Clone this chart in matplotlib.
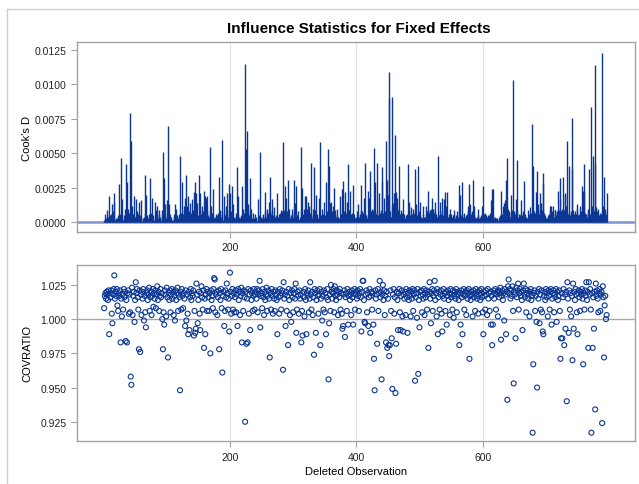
import numpy as np
import matplotlib
matplotlib.use("Agg")
import matplotlib.pyplot as plt
from matplotlib.lines import Line2D

plt.rcParams['font.family'] = ['Liberation Sans', 'DejaVu Sans']

# Cook's D per deleted observation, in units of 1e-4
cooks_d = [
    2, 6, 1, 3, 2, 9, 4, 5, 19, 5, 4, 6, 3, 13, 8, 21, 15, 2, 1, 3,
    1, 3, 5, 4, 28, 6, 2, 47, 17, 1, 2, 3, 5, 10, 7, 42, 29, 6, 10, 5,
    7, 79, 3, 59, 12, 6, 3, 19, 4, 2, 5, 17, 8, 4, 6, 15, 3, 5, 16, 4,
    1, 2, 3, 4, 7, 34, 20, 5, 4, 2, 3, 6, 4, 32, 7, 3, 18, 5, 1, 2,
    4, 15, 9, 5, 12, 3, 6, 9, 4, 1, 2, 5, 9, 51, 8, 32, 13, 4, 3, 6,
    16, 70, 5, 13, 6, 4, 3, 2, 1, 2, 4, 6, 13, 5, 10, 3, 5, 3, 4, 6,
    48, 5, 7, 29, 4, 6, 12, 8, 18, 9, 34, 12, 6, 19, 8, 5, 14, 7, 4, 17,
    6, 9, 22, 12, 29, 21, 8, 14, 5, 3, 34, 9, 21, 6, 4, 12, 5, 8, 23, 11,
    19, 18, 9, 19, 5, 2, 4, 8, 55, 12, 6, 7, 24, 5, 3, 4, 3, 6, 2, 5,
    7, 6, 33, 5, 9, 4, 8, 60, 2, 6, 19, 5, 7, 12, 9, 21, 4, 6, 28, 21,
    6, 8, 5, 26, 13, 4, 2, 3, 5, 7, 40, 6, 19, 4, 2, 3, 5, 4, 26, 6,
    10, 4, 7, 115, 8, 53, 66, 9, 13, 5, 6, 32, 4, 10, 3, 2, 7, 3, 1, 6,
    2, 4, 1, 3, 17, 5, 2, 51, 4, 2, 3, 5, 6, 3, 8, 22, 4, 6, 10, 5,
    7, 15, 9, 33, 6, 8, 17, 5, 3, 11, 4, 3, 5, 2, 21, 4, 3, 6, 2, 7,
    9, 5, 8, 58, 6, 9, 26, 7, 18, 4, 8, 31, 6, 10, 3, 5, 3, 6, 10, 4,
    8, 31, 14, 6, 26, 5, 8, 3, 2, 2, 4, 9, 55, 25, 6, 3, 10, 5, 19, 7,
    19, 10, 6, 15, 12, 4, 7, 43, 5, 3, 6, 10, 40, 4, 9, 20, 6, 4, 2, 3,
    18, 6, 58, 5, 4, 10, 3, 6, 15, 5, 3, 29, 8, 6, 53, 12, 41, 7, 14, 15,
    6, 8, 12, 4, 25, 6, 9, 4, 5, 10, 4, 2, 3, 19, 6, 4, 7, 24, 30, 8,
    5, 22, 7, 4, 15, 6, 42, 5, 9, 23, 6, 4, 7, 5, 27, 6, 4, 3, 2, 4,
    8, 5, 13, 4, 3, 6, 9, 27, 8, 5, 7, 18, 6, 43, 5, 4, 3, 6, 23, 18,
    5, 37, 8, 4, 10, 6, 9, 54, 7, 29, 6, 8, 43, 5, 4, 21, 6, 7, 9, 40,
    29, 5, 7, 18, 6, 8, 59, 10, 31, 20, 90, 109, 8, 4, 4, 12, 91, 14, 9, 21,
    8, 63, 22, 12, 18, 9, 7, 41, 6, 9, 5, 4, 7, 17, 6, 4, 3, 2, 5, 6,
    42, 6, 8, 15, 5, 11, 4, 6, 3, 10, 5, 7, 39, 6, 13, 5, 4, 41, 8, 15,
    5, 4, 2, 3, 6, 12, 4, 3, 4, 6, 12, 8, 9, 23, 7, 8, 9, 10, 18, 9,
    10, 10, 7, 8, 15, 6, 4, 2, 5, 48, 5, 8, 15, 6, 4, 18, 5, 9, 17, 12,
    22, 12, 22, 3, 4, 6, 4, 5, 10, 6, 4, 3, 5, 9, 6, 3, 4, 5, 3, 8,
    4, 6, 27, 20, 5, 4, 6, 29, 4, 3, 7, 4, 5, 3, 6, 12, 8, 5, 28, 13,
    4, 6, 8, 31, 5, 6, 12, 4, 2, 3, 4, 5, 10, 3, 2, 4, 3, 5, 12, 4,
    26, 6, 4, 7, 3, 5, 4, 3, 5, 5, 3, 7, 16, 10, 24, 24, 5, 3, 4, 2,
    3, 1, 3, 2, 4, 2, 3, 5, 23, 6, 4, 12, 8, 14, 16, 9, 31, 12, 47, 10,
    8, 5, 4, 7, 20, 6, 9, 103, 8, 5, 6, 8, 17, 9, 45, 4, 3, 6, 5, 7,
    16, 5, 4, 8, 6, 30, 6, 4, 2, 3, 4, 9, 6, 5, 11, 4, 7, 71, 9, 41,
    8, 7, 6, 5, 22, 37, 9, 13, 6, 10, 21, 8, 14, 9, 28, 36, 7, 5, 4, 3,
    2, 3, 5, 4, 6, 12, 9, 12, 5, 8, 12, 6, 4, 9, 9, 5, 7, 8, 23, 6,
    9, 17, 32, 8, 7, 10, 33, 6, 9, 21, 20, 12, 59, 8, 6, 41, 7, 5, 4, 8,
    39, 76, 9, 6, 5, 8, 4, 6, 13, 10, 5, 4, 6, 12, 5, 8, 26, 23, 9, 42,
    23, 7, 5, 6, 4, 8, 10, 39, 6, 5, 3, 84, 12, 48, 9, 8, 42, 114, 7, 11,
    8, 6, 10, 5, 7, 4, 6, 8, 123, 12, 9, 33, 8, 10, 6, 21,
]

# COVRATIO per deleted observation, as (COVRATIO - 1) * 1000
covratio = [
    8, 17, 19, 15, 20, 18, 14, 21, -11, 19, 16, 21, 4, -3, 18, 22, 32, 15, 20, 17,
    22, 10, 6, 19, 17, 21, -17, 15, 2, 18, 7, 22, 16, 20, -16, 14, -17, 19, 21, 4,
    18, 5, -42, -48, 23, 3, 17, 20, -2, 14, 27, 19, 22, 16, 7, -22, 21, -24, 18, 3,
    20, 15, 22, -1, 17, 5, -6, 19, 21, 14, 18, 23, 6, 16, 20, 3, 17, 22, 9, 19,
    15, 21, 8, 18, 24, 14, 20, 6, 17, 22, 16, 19, 0, -22, 5, -4, 21, 18, 2, 23,
    16, -28, 19, 14, 21, 5, 18, 22, 15, 20, 3, 17, -1, 21, 14, 19, 23, 6, 18, 16,
    -52, 20, 7, 22, 17, 8, 19, 15, -5, 21, -1, 18, 4, -11, 20, -8, 16, 22, 14, 19,
    17, 21, -12, 6, -10, -7, 26, 18, -3, 14, 20, 4, -8, 19, 24, 16, 7, 21, -21, 15,
    -11, 18, 22, 6, 20, 16, 6, 19, -25, 21, 14, 17, 8, 22, 30, 29, 5, 18, 20, 3,
    16, 21, -22, 19, 14, 22, 8, -39, 17, 20, -5, 6, 21, 16, 26, 19, 7, 15, -9, 34,
    20, 4, 17, 22, 7, 19, 5, 16, 21, 5, 18, -5, 22, 14, 20, 3, 17, 23, -17, 19,
    6, 21, 16, -75, 20, -18, 15, -17, 22, 4, 18, -8, 21, 14, 19, 6, 17, 22, 7, 18,
    20, 15, 22, 5, 18, 21, 28, -6, 17, 19, 8, 22, 16, 3, 20, 14, 18, 23, 6, 17,
    21, 15, -28, 19, 7, 22, 17, 4, 20, 15, 6, 21, 18, 14, -11, 20, 16, 4, 22, 17,
    7, 19, 21, -37, 27, 15, 18, -5, 20, 6, 17, -19, 22, 14, 3, 19, -2, 21, 16, 5,
    19, 22, 15, 26, -10, 7, 20, 17, 4, 21, 15, 18, -17, 6, -12, 20, 16, 2, 22, 14,
    -11, 19, 17, 21, 5, 15, 27, 18, 7, 20, 3, 16, -26, 22, 19, -10, 14, 21, 17, 4,
    18, 22, -19, 15, 20, -1, 17, 7, 21, 5, 19, -11, 16, 22, 14, -44, -3, 18, 6, 25,
    20, 15, 19, 22, 5, 24, 17, 14, 21, 18, 3, 20, 16, 22, 7, 19, 4, -7, -5, 18,
    21, -13, 16, 19, 6, 22, -4, 17, 20, 14, 18, 3, 21, 16, -4, 19, 22, 7, 18, 20,
    15, 21, 17, 6, 19, 22, 16, -9, 20, 28, 28, 14, -2, -3, 18, 21, 5, 19, -5, 16,
    22, -10, 17, 20, 7, 19, -4, -29, -52, 21, 15, 18, -18, 22, 6, 19, 28, 16, 20, -44,
    18, 25, 14, 21, 3, 17, -17, 20, -21, 15, -19, -27, -19, 21, 6, -14, -51, 18, 22, 4,
    16, -54, -18, 20, 14, -8, 19, 22, 5, -8, 17, 21, 2, -9, 18, 15, 20, 3, 22, 16,
    -10, 19, 14, 21, 17, 2, 20, 15, 22, 6, 18, 21, -45, 16, 19, 1, 22, -40, 14, -6,
    20, 17, 21, 5, 18, 15, 22, 3, 19, 16, 21, 7, 18, -21, 20, 27, 15, -3, 19, 22,
    6, 17, 21, 28, 14, 19, 2, 22, -11, 16, 20, 7, 18, 21, 4, -9, 17, 22, 15, 19,
    6, 20, -4, 17, 21, 14, 19, 3, 22, 16, 18, 7, 21, 1, 17, 20, 15, 22, 5, 18,
    20, 14, -19, 19, -4, 21, 16, -11, 18, 22, 7, 17, 20, 3, 21, 15, 19, 22, -29, 17,
    14, 20, 18, 2, 21, 16, 19, 6, 22, 17, 15, 20, 4, 18, 21, 14, 19, 22, 16, 5,
    -11, 20, 17, 7, 21, 18, 3, 22, 15, 19, 6, 20, -4, 17, -19, -4, 21, 15, 19, 22,
    7, 18, 20, 2, 21, 16, 19, 23, -15, 17, 21, 14, 19, -1, 22, 18, -11, 20, -59, 24,
    29, 19, 22, 15, 21, 17, 24, 6, -47, 20, 18, -14, 23, 16, 21, 26, 7, 19, 22, 17,
    20, 14, -8, 21, 26, 18, 16, 22, 5, 19, 21, 15, 18, 2, 20, 22, 14, 17, -83, -33,
    19, 21, 6, 17, -2, -50, 20, 15, 22, -3, 18, 7, 21, 5, -9, -11, 17, 20, 14, 22,
    16, 19, 2, 21, 17, 7, 20, 22, -4, 15, 19, 21, 5, 18, 16, 22, -2, 20, 14, 17,
    21, 6, -29, -14, 19, -14, 16, 22, -19, 18, -7, 20, -60, 27, 15, -10, 21, 7, 19, 2,
    17, -30, 26, -7, 20, 14, 22, 18, 5, -11, 19, 21, 16, 6, 20, 18, 22, 15, -33, 19,
    7, 21, 17, 27, 14, 20, -21, 27, 18, 22, 7, -83, 19, -21, 16, -7, 20, -66, 26, 17,
    21, 15, 5, 19, 22, 6, 18, 20, -76, 24, 16, -28, 10, 17, 0, 3,
]

obs = np.arange(1, len(cooks_d) + 1)
d = np.array(cooks_d) * 1e-4
cr = 1 + np.array(covratio) / 1000.0

blue = '#0B3693'
frame = '#A3A3A3'
W, H = 639, 485

fig = plt.figure(figsize=(W / 100, H / 100), dpi=100)
ax1 = fig.add_axes([77 / W, 1 - 233 / H, 558 / W, 190 / H])
ax2 = fig.add_axes([77 / W, 1 - 442.3 / H, 558 / W, 176.6 / H])

# outer graph border
fig.add_artist(Line2D([7 / W, 7 / W], [0, 1 - 10 / H], color='#CFCFCF', lw=1))
fig.add_artist(Line2D([7 / W, 1], [1 - 10 / H, 1 - 10 / H], color='#CFCFCF', lw=1))

fig.text(359 / W, 1 - 29 / H, 'Influence Statistics for Fixed Effects',
         ha='center', va='center', fontsize=11, fontweight='bold')

for ax in (ax1, ax2):
    ax.set_xlim(-42, 841)
    ax.set_xticks([200, 400, 600])
    for xv in [200, 400, 600]:
        ax.axvline(xv, color='#E3E3E3', lw=0.9, zorder=0)
    for s in ax.spines.values():
        s.set_color(frame)
        s.set_linewidth(1.0)
    ax.tick_params(colors=frame, labelcolor='#222222', labelsize=7.5,
                   length=4, width=0.8)

# Cook's D needles
ax1.axhline(0, color='#7D93C9', lw=1.8, zorder=1)
ax1.vlines(obs, 0, d, colors=blue, lw=1.0, zorder=2)
ax1.set_ylim(-0.0007, 0.01308)
ax1.set_yticks([0, 0.0025, 0.005, 0.0075, 0.01, 0.0125])
ax1.set_yticklabels(['%.4f' % v for v in ax1.get_yticks()])
ax1.set_ylabel("Cook's D", fontsize=8)
ax1.yaxis.set_label_coords(-0.08, 0.5)

# COVRATIO
ax2.axhline(1.0, color='#A8A8A8', lw=1.0, zorder=1)
ax2.scatter(obs, cr, s=13, facecolors='none', edgecolors=blue, linewidths=0.8, zorder=3)
ax2.set_ylim(0.9107, 1.0398)
ax2.set_yticks([0.925, 0.95, 0.975, 1.0, 1.025])
ax2.set_yticklabels(['%.3f' % v for v in ax2.get_yticks()])
ax2.set_ylabel('COVRATIO', fontsize=8)
ax2.yaxis.set_label_coords(-0.08, 0.5)
ax2.set_xlabel('Deleted Observation', fontsize=8, labelpad=3)

fig.savefig('out.png', dpi=100)
